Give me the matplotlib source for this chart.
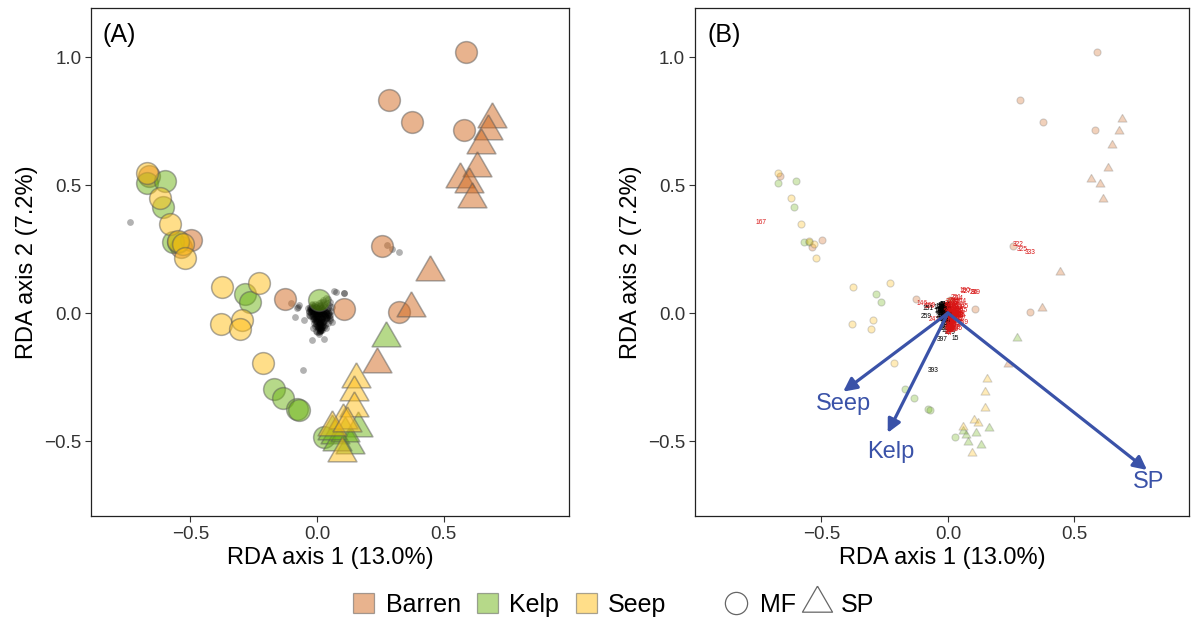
import numpy as np
import matplotlib.pyplot as plt
from matplotlib.patches import Patch
from matplotlib.lines import Line2D

plt.rcParams['font.family'] = ['Liberation Sans', 'DejaVu Sans']

HABITATS = ['Barren', 'Kelp', 'Seep']
COLORS = {'Barren': '#D2691E', 'Kelp': '#6EB414', 'Seep': '#FFBE14'}
# triangle centred on its centroid, like R's pch 24
TRI = [(0, 1), (-0.866, -0.5), (0.866, -0.5), (0, 1)]

# site scores, MF = circles, SP = triangles
mf_x = {
    'Barren': [0.59, 0.286, 0.377, 0.581, 0.258, -0.663, -0.536, -0.499, -0.128, 0.107, 0.323],
    'Kelp': [-0.672, -0.601, -0.610, -0.567, -0.548, -0.286, -0.266, 0.008, -0.169, -0.133, -0.080, -0.071, 0.028],
    'Seep': [-0.673, -0.621, -0.581, -0.551, -0.528, -0.521, -0.374, -0.229, -0.378, -0.296, -0.306, -0.212],
}
mf_y = {
    'Barren': [1.02, 0.831, 0.746, 0.715, 0.262, 0.535, 0.258, 0.284, 0.055, 0.016, 0.005],
    'Kelp': [0.509, 0.517, 0.414, 0.279, 0.278, 0.075, 0.043, 0.051, -0.296, -0.332, -0.376, -0.380, -0.485],
    'Seep': [0.548, 0.449, 0.348, 0.281, 0.270, 0.216, 0.100, 0.118, -0.042, -0.027, -0.064, -0.197],
}
sp_x = {
    'Barren': [0.69, 0.676, 0.647, 0.632, 0.565, 0.602, 0.614, 0.445, 0.372, 0.236],
    'Kelp': [0.273, 0.163, 0.071, 0.13, 0.078, 0.11, 0.06],
    'Seep': [0.154, 0.147, 0.146, 0.104, 0.058, 0.097, 0.12],
}
sp_y = {
    'Barren': [0.757, 0.71, 0.657, 0.568, 0.525, 0.504, 0.447, 0.16, 0.021, -0.2],
    'Kelp': [-0.099, -0.45, -0.477, -0.516, -0.503, -0.47, -0.46],
    'Seep': [-0.258, -0.307, -0.369, -0.418, -0.444, -0.548, -0.43],
}

# species scores away from the centre (label, x, y, red)
out_id = ['167', '322', '325', '333', '393', '227', '239', '146', '160', '128', '151', '259', '247',
          '279', '397', '15', '62', '190', '86']
out_x = [-0.74, 0.277, 0.296, 0.324, -0.057, 0.074, 0.108, -0.103, -0.07, -0.075, -0.08, -0.087, -0.053,
         0.008, -0.021, 0.028, 0.05, 0.068, 0.105]
out_y = [0.355, 0.266, 0.25, 0.238, -0.224, 0.083, 0.079, 0.038, 0.031, 0.025, 0.018, -0.014, -0.027,
         -0.074, -0.105, -0.1, -0.027, 0.087, 0.079]
out_red = [True, True, True, True, False, True, True, True, True, True, False, False, True,
           False, False, False, True, True, True]

# species packed round the origin
core_black_x = [-0.035, -0.03, -0.028, -0.025, -0.022, -0.02, -0.018, -0.015, -0.012, -0.01,
                -0.008, -0.006, -0.005, -0.004, -0.003, -0.002, -0.012, -0.008, -0.015, -0.005,
                -0.032, -0.026, -0.019, -0.014, -0.009]
core_black_y = [0.02, 0.01, 0.025, 0.0, 0.015, -0.01, 0.03, 0.005, -0.02, 0.02,
                -0.005, 0.01, -0.03, 0.0, -0.015, 0.025, -0.04, -0.05, -0.06, -0.07,
                0.005, -0.012, 0.012, -0.025, 0.035]
core_black_id = ['101', '104', '109', '113', '117', '120', '124', '131', '135', '139',
                 '142', '149', '153', '157', '163', '171', '176', '180', '185', '193',
                 '198', '202', '207', '211', '216']
core_red_x = [0.0, 0.002, 0.004, 0.005, 0.006, 0.008, 0.01, 0.01, 0.012, 0.014,
              0.015, 0.016, 0.018, 0.02, 0.02, 0.022, 0.024, 0.026, 0.028, 0.03,
              0.032, 0.034, 0.036, 0.038, 0.04, 0.042, 0.044, 0.046, 0.048, 0.05,
              0.052, 0.055, 0.058, 0.06, 0.01, 0.005, 0.02, 0.028, 0.036, 0.012,
              0.025, 0.042, 0.034, 0.015, 0.03, 0.045, 0.008, 0.022, 0.04, 0.05]
core_red_y = [0.01, -0.01, 0.02, -0.025, 0.0, -0.04, 0.015, -0.015, 0.03, -0.005,
              -0.03, 0.01, -0.05, 0.02, -0.02, 0.0, -0.035, 0.035, 0.01, -0.01,
              0.025, -0.025, 0.005, 0.04, -0.015, 0.02, -0.04, 0.0, 0.03, -0.02,
              0.045, 0.01, -0.035, 0.025, -0.06, -0.055, -0.065, -0.055, -0.06, -0.07,
              0.05, 0.055, 0.06, 0.045, -0.045, -0.005, 0.038, 0.042, 0.012, -0.008]
core_red_id = ['2', '5', '9', '11', '18', '24', '27', '33', '36', '40',
               '44', '49', '52', '55', '59', '64', '67', '70', '76', '79',
               '83', '90', '93', '97', '106', '111', '115', '127', '133', '137',
               '144', '155', '159', '165', '173', '178', '183', '188', '195', '200',
               '206', '214', '221', '225', '230', '235', '243', '249', '256', '265']
# the densest part of the cloud (near-zero scores)
dense_x = [-0.02, -0.015, -0.01, -0.005, 0.0, 0.005, 0.01, 0.015, 0.02, 0.025,
           -0.018, -0.012, -0.006, 0.0, 0.006, 0.012, 0.018, 0.024, 0.03, 0.036,
           -0.016, -0.01, -0.004, 0.002, 0.008, 0.014, 0.02, 0.026, 0.032, -0.022,
           -0.014, -0.008, -0.002, 0.004, 0.01, 0.016, 0.022, 0.028, 0.034, 0.04,
           -0.01, -0.004, 0.002, 0.008, 0.014, 0.02, 0.026, -0.006, 0.0, 0.006,
           0.012, 0.018, 0.024, -0.002, 0.004, 0.01, 0.016, 0.022, 0.0, 0.006,
           0.012, 0.018, 0.004, 0.01, 0.016, 0.008, 0.014, 0.01, -0.026, 0.044,
           -0.03, 0.048, -0.024, 0.038, -0.02, 0.03, 0.002, 0.012, 0.006, 0.016]
dense_y = [0.025, 0.02, 0.028, 0.022, 0.03, 0.018, 0.026, 0.02, 0.024, 0.015,
           0.01, 0.008, 0.012, 0.005, 0.01, 0.006, 0.012, 0.004, 0.008, 0.002,
           -0.002, 0.0, -0.004, 0.002, -0.003, 0.0, -0.005, -0.002, -0.006, 0.01,
           -0.012, -0.015, -0.01, -0.014, -0.012, -0.016, -0.011, -0.018, -0.02, -0.008,
           -0.025, -0.022, -0.026, -0.024, -0.028, -0.022, -0.03, -0.032, -0.035, -0.033,
           -0.036, -0.038, -0.034, -0.042, -0.045, -0.04, -0.044, -0.046, -0.05, -0.052,
           -0.048, -0.055, -0.058, -0.056, -0.062, -0.06, -0.065, -0.07, 0.015, 0.005,
           -0.008, -0.01, 0.02, -0.02, 0.035, 0.03, -0.075, -0.068, -0.08, -0.06]
dense_id = ('300 302 304 306 308 310 312 314 316 318 320 324 326 328 330 332 334 336 338 341 '
            '343 345 347 349 351 353 355 358 360 362 364 366 368 371 373 375 377 379 381 383 '
            '385 387 389 391 395 1 3 4 6 7 8 10 12 13 14 16 17 19 20 21 '
            '23 25 26 28 29 30 31 32 34 35 37 38 39 41 42 43 45 46 47 48').split()

spec_x = out_x + core_black_x + core_red_x + dense_x
spec_y = out_y + core_black_y + core_red_y + dense_y
spec_id = out_id + core_black_id + core_red_id + dense_id
spec_red = out_red + [False] * len(core_black_x) + [True] * len(core_red_x) + [x >= 0 for x in dense_x]

# constraining variables (arrows in B)
env_names = ['Seep', 'Kelp', 'SP']
env_x = [-0.414, -0.238, 0.787]
env_y = [-0.307, -0.468, -0.613]
env_offset = [(0, -9), (2, -14), (1, -9)]


def style_axes(ax, xlim, label):
    ax.set_xlim(*xlim)
    ax.set_ylim(-0.793, 1.191)
    ax.set_xticks([-0.5, 0.0, 0.5])
    ax.set_yticks([-0.5, 0.0, 0.5, 1.0])
    ax.xaxis.set_major_formatter(lambda v, p: f"{v:.1f}".replace('-', '\u2212'))
    ax.yaxis.set_major_formatter(lambda v, p: f"{v:.1f}".replace('-', '\u2212'))
    ax.tick_params(labelsize=13.5, length=4, width=0.8, color='#333333', labelcolor='#333333', pad=3)
    for s in ax.spines.values():
        s.set_linewidth(0.9)
        s.set_color('#222222')
    ax.set_xlabel('RDA axis 1 (13.0%)', fontsize=17, labelpad=3)
    ax.set_ylabel('RDA axis 2 (7.2%)', fontsize=17, labelpad=4)
    ax.text(0.025, 0.97, label, transform=ax.transAxes, fontsize=18, ha='left', va='top')


fig = plt.figure(figsize=(11.91, 6.2), dpi=100)
axA = fig.add_axes([0.0764, 0.1677, 0.4014, 0.819])
axB = fig.add_axes([0.5835, 0.1677, 0.4148, 0.819])

# panel A: species under the sites
axA.scatter(spec_x, spec_y, s=24, color='black', alpha=0.3, linewidths=0, zorder=1)
edge_a = (0.35, 0.35, 0.35, 0.75)
for h in HABITATS:
    axA.scatter(mf_x[h], mf_y[h], s=245, marker='o', color=COLORS[h], alpha=0.5,
                edgecolors=edge_a, linewidths=1.1, zorder=2)
for h in HABITATS:
    axA.scatter(sp_x[h], sp_y[h], s=575, marker=TRI, color=COLORS[h], alpha=0.5,
                edgecolors=edge_a, linewidths=1.1, zorder=2)
style_axes(axA, (-0.893, 0.996), '(A)')

# panel B: faint sites, species numbers, arrows
edge_b = (0.45, 0.45, 0.45, 0.45)
for h in HABITATS:
    axB.scatter(mf_x[h], mf_y[h], s=26, marker='o', color=COLORS[h], alpha=0.3,
                edgecolors=edge_b, linewidths=0.8, zorder=2)
    axB.scatter(sp_x[h], sp_y[h], s=55, marker=TRI, color=COLORS[h], alpha=0.3,
                edgecolors=edge_b, linewidths=0.8, zorder=2)
for name, x, y, red in zip(spec_id, spec_x, spec_y, spec_red):
    axB.text(x, y, name, fontsize=4.8, ha='center', va='center',
             color='#D81414' if red else 'black', zorder=3)
blue = '#3A52A8'
for name, x, y, off in zip(env_names, env_x, env_y, env_offset):
    axB.annotate('', xy=(x, y), xytext=(0, 0),
                 arrowprops=dict(arrowstyle='-|>', color=blue, lw=2.3, mutation_scale=20,
                                 shrinkA=0, shrinkB=0), zorder=4)
    axB.annotate(name, xy=(x, y), xytext=off, textcoords='offset points',
                 fontsize=17, color=blue, ha='center', va='center', zorder=4)
style_axes(axB, (-1.0, 0.953), '(B)')

fill_handles = [Patch(facecolor=COLORS[h], alpha=0.5, edgecolor='#555555', linewidth=0.9, label=h)
                for h in HABITATS]
shape_handles = [Line2D([], [], marker='o', ls='none', mfc='none', mec='#666666', ms=16, mew=0.9, label='MF'),
                 Line2D([], [], marker=TRI, ls='none', mfc='none', mec='#666666', ms=25, mew=0.9, label='SP')]
fig.legend(handles=fill_handles, loc='center', bbox_to_anchor=(0.428, 0.024), ncol=3,
           frameon=False, fontsize=18, handlelength=0.85, handleheight=0.85,
           handletextpad=0.45, columnspacing=0.65)
fig.legend(handles=shape_handles, loc='center', bbox_to_anchor=(0.671, 0.024), ncol=2,
           frameon=False, fontsize=18, handlelength=1.0, handletextpad=0.45, columnspacing=0.35)

fig.savefig('out.png', dpi=100)
